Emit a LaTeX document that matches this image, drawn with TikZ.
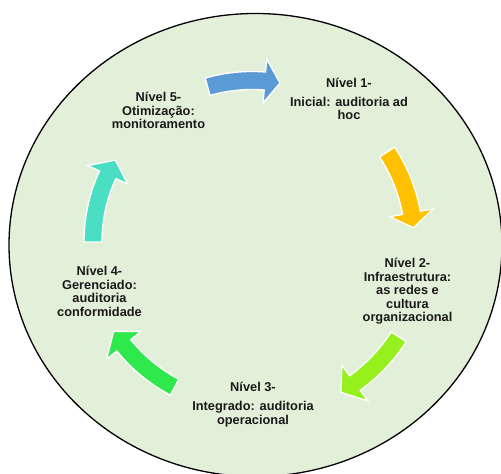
\documentclass[tikz,border=0pt]{standalone}
\usepackage{fontspec}
\setmainfont{Liberation Sans}
\usetikzlibrary{calc}
\definecolor{bgfill}{HTML}{E2EFD9}
\definecolor{txt}{HTML}{1A1A1A}
\definecolor{cblue}{HTML}{5B9BD5}
\definecolor{cyellow}{HTML}{FFC000}
\definecolor{clime}{HTML}{95F01E}
\definecolor{cgreen}{HTML}{2EE84C}
\definecolor{cteal}{HTML}{4ADFC2}
% #1 colour, #2 radius, #3 tail angle, #4 head-base angle, #5 tip angle
\newcommand{\cycarrow}[5]{%
  \fill[#1, draw=white, line width=1.3pt, line join=miter]
    ($(C)+(#3:#2+9)$) arc[start angle=#3, end angle=#4, radius=#2+9]
    -- ($(C)+(#4:#2+22)$) -- ($(C)+(#5:#2)$) -- ($(C)+(#4:#2-22)$)
    -- ($(C)+(#4:#2-9)$) arc[start angle=#4, end angle=#3, radius=#2-9]
    -- cycle;}
\begin{document}
\begin{tikzpicture}[x=1pt, y=1pt,
  lbl/.style={font=\fontsize{12.8}{13.5}\selectfont\bfseries, text=txt, align=center, inner sep=0pt}]
\useasboundingbox (0,0) rectangle (501,474);
\draw[fill=bgfill, line width=1.3pt] (255.5,229) ellipse [x radius=246.5, y radius=231.5];
\coordinate (C) at (252,232.5);
\cycarrow{cblue}{161}{106}{85.4}{80}
\cycarrow{cyellow}{162}{33.5}{10.2}{4.9}
\cycarrow{clime}{175}{-33}{-54}{-59.5}
\cycarrow{cgreen}{165}{-118}{-141}{-147}
\cycarrow{cteal}{159}{180.2}{155.2}{149.2}
\node[lbl] (n1) at (349,375) {Nível 1-\\[5.5pt]Inicial: auditoria ad\\hoc};
\node[lbl] (n2) at (407.5,182.5) {Nível 2-\\Infraestrutura:\\as redes e\\cultura\\organizacional};
\node[lbl] (n3) at (253,69.5) {Nível 3-\\[5.5pt]Integrado: auditoria\\operacional};
\node[lbl] (n4) at (99.5,182.5) {Nível 4-\\Gerenciado:\\auditoria\\conformidade};
\node[lbl] (n5) at (158.5,363.5) {Nível 5-\\Otimização:\\monitoramento};
\end{tikzpicture}
\end{document}
